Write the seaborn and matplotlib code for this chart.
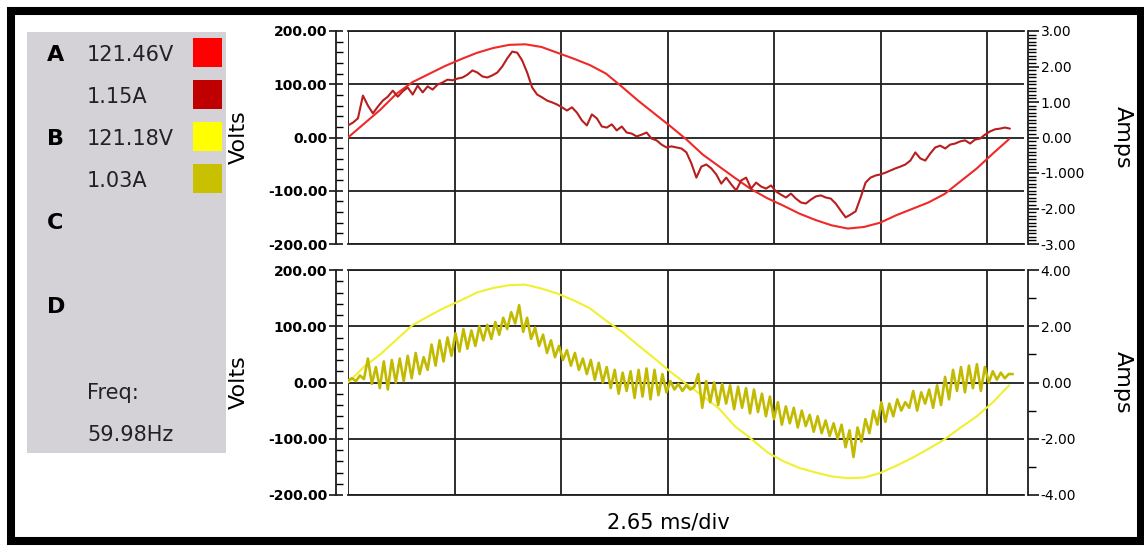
import numpy as np
import pandas as pd
import matplotlib
matplotlib.use('Agg')
import matplotlib.pyplot as plt
from matplotlib.patches import Rectangle
from matplotlib.ticker import MultipleLocator, FormatStrFormatter
import seaborn as sns

# ---- values ----
ms_per_div = 2.65
n_div_grid = 7

volt_ticks = [-200, -100, 0, 100, 200]
amps_a_ticks = [-3, -2, -1, 0, 1, 2, 3]
amps_a_labels = ['-3.00', '-2.00', '-1.000', '0.00', '1.00', '2.00', '3.00']
amps_b_ticks = [-4, -2, 0, 2, 4]
amps_b_labels = ['-4.00', '-2.00', '0.00', '2.00', '4.00']

channel_letters = ['A', '', 'B', '', 'C', 'D']
channel_readings = ['121.46V', '1.15A', '121.18V', '1.03A', '', '']
swatch_colors = ['#ff0000', '#c00000', '#ffff00', '#c8c000']
freq_label = 'Freq:'
freq_value = '59.98Hz'

# phase A voltage (V)
volts_a = [0, 26, 52, 82, 104, 119, 134, 147, 159, 168, 174, 175, 170, 159,
           148, 136, 120, 95, 69, 45, 21, -4, -32, -54, -76, -97, -114, -128,
           -143, -155, -165, -171, -168, -160, -146, -134, -122, -106, -82,
           -58, -30, -3]
# phase A current (A)
amps_a = [0.34, 0.42, 0.54, 1.18, 0.90, 0.68, 0.87, 1.04, 1.15, 1.32, 1.15,
          1.30, 1.41, 1.21, 1.46, 1.27, 1.44, 1.35, 1.49, 1.55, 1.63, 1.61,
          1.66, 1.69, 1.77, 1.89, 1.83, 1.72, 1.69, 1.75, 1.83, 2.00, 2.23,
          2.42, 2.39, 2.17, 1.83, 1.41, 1.21, 1.13, 1.04, 0.99, 0.93, 0.85,
          0.76, 0.85, 0.70, 0.48, 0.34, 0.65, 0.54, 0.31, 0.28, 0.37, 0.20,
          0.31, 0.14, 0.11, 0.03, 0.08, 0.14, -0.03, -0.08, -0.20, -0.28,
          -0.25, -0.28, -0.31, -0.42, -0.73, -1.13, -0.82, -0.76, -0.87,
          -1.04, -1.30, -1.13, -1.32, -1.49, -1.21, -1.13, -1.44, -1.27,
          -1.38, -1.44, -1.35, -1.52, -1.61, -1.69, -1.58, -1.72, -1.83,
          -1.86, -1.75, -1.66, -1.63, -1.69, -1.72, -1.86, -2.06, -2.25,
          -2.17, -2.08, -1.69, -1.27, -1.13, -1.07, -1.04, -0.99, -0.93,
          -0.87, -0.82, -0.76, -0.65, -0.42, -0.59, -0.65, -0.45, -0.28,
          -0.23, -0.31, -0.20, -0.17, -0.11, -0.08, -0.17, -0.06, -0.03,
          0.08, 0.17, 0.23, 0.25, 0.28, 0.25]
# phase B voltage (V)
volts_b = [0, 28, 50, 76, 102, 118, 133, 146, 160, 168, 173, 174, 167, 158,
           146, 132, 110, 90, 66, 43, 19, -3, -24, -46, -78, -100, -124, -140,
           -152, -160, -167, -170, -169, -161, -148, -134, -118, -101, -80,
           -60, -35, -5]
# phase B current (A)
amps_b = [0.07, 0.15, 0.05, 0.25, 0.12, 0.85, -0.05, 0.55, -0.20, 0.75,
          -0.25, 0.80, 0.00, 0.85, 0.05, 0.95, 0.15, 1.05, 0.30, 0.90, 0.45,
          1.35, 0.60, 1.50, 0.75, 1.60, 0.95, 1.75, 1.10, 1.90, 1.20, 1.85,
          1.30, 2.00, 1.50, 2.05, 1.55, 2.15, 1.70, 2.30, 1.90, 2.50, 2.10,
          2.75, 1.80, 2.30, 1.55, 1.95, 1.30, 1.70, 1.05, 1.50, 0.90, 1.30,
          0.80, 1.15, 0.60, 1.05, 0.45, 0.85, 0.30, 0.80, 0.10, 0.70, 0.00,
          0.55, -0.20, 0.45, -0.40, 0.35, -0.30, 0.40, -0.55, 0.45, -0.50,
          0.50, -0.60, 0.45, -0.45, 0.30, -0.35, 0.05, -0.25, -0.05, -0.30,
          -0.10, -0.25, -0.15, 0.30, -0.90, 0.05, -0.70, 0.00, -0.80, -0.05,
          -0.75, -0.10, -0.95, -0.15, -0.90, -0.20, -1.10, -0.25, -1.05,
          -0.40, -1.20, -0.50, -1.30, -0.70, -1.50, -0.85, -1.45, -0.90,
          -1.60, -1.00, -1.55, -1.15, -1.75, -1.20, -1.80, -1.35, -1.90,
          -1.45, -2.00, -1.50, -2.30, -1.70, -2.65, -1.60, -2.10, -1.30,
          -1.80, -1.00, -1.50, -0.70, -1.40, -0.75, -1.20, -0.60, -1.00,
          -0.70, -0.90, -0.30, -1.00, -0.35, -0.75, -0.25, -0.90, -0.10,
          -0.80, 0.20, -0.60, 0.45, -0.30, 0.55, -0.35, 0.60, -0.20, 0.65,
          -0.30, 0.55, 0.00, 0.40, 0.10, 0.35, 0.15, 0.30, 0.30]

# sample times (ms) - each trace spans one cycle from the left edge
t_volts = np.linspace(0, 16.45, len(volts_a))
t_amps_a = np.linspace(0, 16.47, len(amps_a))
t_amps_b = np.linspace(0, 16.54, len(amps_b))

df_a = pd.DataFrame({'t': t_volts, 'volts': volts_a})
df_ia = pd.DataFrame({'t': t_amps_a, 'amps': amps_a})
df_b = pd.DataFrame({'t': t_volts, 'volts': volts_b})
df_ib = pd.DataFrame({'t': t_amps_b, 'amps': amps_b})

# ---- styling ----
sns.set_style('white')
plt.rcParams['font.family'] = ['DejaVu Sans']
plt.rcParams['axes.unicode_minus'] = False
plt.rcParams['text.color'] = 'black'
plt.rcParams['axes.labelcolor'] = 'black'
plt.rcParams['xtick.color'] = 'black'
plt.rcParams['ytick.color'] = 'black'

W, H = 1144, 546
fig = plt.figure(figsize=(W / 100, H / 100), dpi=100)


def px_box(left, top, right, bottom):
    return [left / W, (H - bottom) / H, (right - left) / W, (bottom - top) / H]


grid_kw = dict(color='#1e1e1e', linewidth=1.3)
xmax = 676 / 106.5 * ms_per_div


def scope_panel(box, vdf, idf, vcolor, icolor, iwidth, amp_ticks, amp_labels, amp_minor):
    ax = fig.add_axes(box)
    sns.lineplot(data=vdf, x='t', y='volts', ax=ax, color=vcolor, linewidth=1.5,
                 estimator=None, sort=False, zorder=3)
    ax.set_xlim(0, xmax)
    ax.set_ylim(-200, 200)
    ax.set_xticks([i * ms_per_div for i in range(n_div_grid)])
    ax.set_yticks(volt_ticks)
    ax.yaxis.set_major_formatter(FormatStrFormatter('%.2f'))
    ax.yaxis.set_minor_locator(MultipleLocator(20))
    ax.grid(True, which='major', **grid_kw)
    ax.set_axisbelow(True)
    for s in ['top', 'bottom', 'left']:
        ax.spines[s].set_color('#1e1e1e')
        ax.spines[s].set_linewidth(1.3)
    ax.spines['right'].set_visible(False)
    ax.spines['left'].set_position(('outward', 9))
    ax.tick_params(axis='x', which='major', direction='out', length=7,
                   width=1.3, color='#1e1e1e', labelbottom=False)
    ax.tick_params(axis='y', which='major', direction='inout', length=10,
                   width=1.1, pad=1, labelsize=10, labelcolor='black')
    ax.tick_params(axis='y', which='minor', direction='in', length=5, width=1.0)
    for lab in ax.get_yticklabels():
        lab.set_fontweight('bold')
    ax.set_xlabel('')
    ax.set_ylabel('Volts', fontsize=16, rotation=90)
    ax.yaxis.set_label_coords((249 - 348) / 676, 0.5)

    ax2 = ax.twinx()
    sns.lineplot(data=idf, x='t', y='amps', ax=ax2, color=icolor, linewidth=iwidth,
                 estimator=None, sort=False, zorder=3)
    ax2.set_xlim(0, xmax)
    lim = max(amp_ticks)
    ax2.set_ylim(-lim, lim)
    ax2.set_yticks(amp_ticks)
    ax2.set_yticklabels(amp_labels, fontweight='bold', fontsize=10)
    ax2.yaxis.set_minor_locator(MultipleLocator(amp_minor))
    for s in ['top', 'bottom', 'left']:
        ax2.spines[s].set_visible(False)
    ax2.spines['right'].set_color('#1e1e1e')
    ax2.spines['right'].set_linewidth(1.3)
    ax2.spines['right'].set_position(('outward', 3))
    ax2.tick_params(axis='y', which='major', direction='out', length=8, width=1.1,
                    pad=1, labelcolor='black')
    ax2.tick_params(axis='y', which='minor', direction='out', length=5.5, width=1.0)
    ax2.set_ylabel('Amps', fontsize=16, rotation=270, va='bottom')
    ax2.yaxis.set_label_coords((1113 - 348) / 676, 0.5)
    ax2.set_xlabel('')
    return ax, ax2


scope_panel(px_box(348, 31, 1024, 244), df_a, df_ia, '#f02828', '#b81e1e', 1.5,
            amps_a_ticks, amps_a_labels, 0.1)
scope_panel(px_box(348, 270, 1024, 495), df_b, df_ib, '#f0f030', '#c2ba00', 1.9,
            amps_b_ticks, amps_b_labels, 1)

fig.text(668 / W, (H - 523) / H, '2.65 ms/div', ha='center', va='center', fontsize=15)

# ---- readout panel on the left ----
pan_l, pan_t, pan_r, pan_b = 27, 32, 226, 453
pan = fig.add_axes(px_box(pan_l, pan_t, pan_r, pan_b))
pan.set_facecolor('#d4d2d6')
pan.set_xlim(0, pan_r - pan_l)
pan.set_ylim(pan_b - pan_t, 0)
pan.set_xticks([])
pan.set_yticks([])
for s in pan.spines.values():
    s.set_visible(False)

row_y = [23, 65, 107, 149, 191, 275]
for i, (letter, reading) in enumerate(zip(channel_letters, channel_readings)):
    if letter:
        pan.text(20, row_y[i], letter, fontsize=16, fontweight='bold', va='center')
    if reading:
        pan.text(60, row_y[i], reading, fontsize=15, va='center', color='#222222')
for i, c in enumerate(swatch_colors):
    pan.add_patch(Rectangle((166, row_y[i] - 17), 29, 29, facecolor=c, edgecolor='none'))
pan.text(60, 361, freq_label, fontsize=15, va='center', color='#222222')
pan.text(60, 403, freq_value, fontsize=15, va='center', color='#222222')

# thick black frame round the whole screen grab
fig.add_artist(Rectangle((11 / W, 5 / H), (1140.5 - 11) / W, (541 - 11) / H,
                         transform=fig.transFigure, fill=False,
                         linewidth=5.8, edgecolor='black'))

fig.savefig('out.png', dpi=100)
